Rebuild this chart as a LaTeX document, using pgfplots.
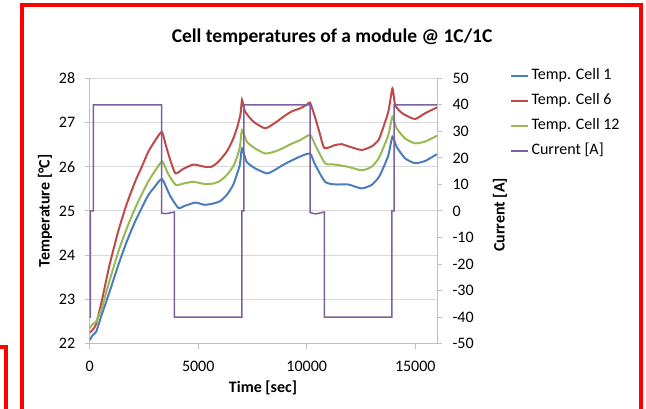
\documentclass[border=0pt]{standalone}
\usepackage{fontspec}
\setmainfont{Carlito}
\usepackage{pgfplots}
\usepackage{pgfplotstable}
\pgfplotsset{compat=1.18}

\definecolor{cblue}{HTML}{4A7EBB}
\definecolor{cred}{HTML}{BE4B48}
\definecolor{cgreen}{HTML}{98B954}
\definecolor{cpurple}{HTML}{7D60A0}
\definecolor{axgray}{HTML}{BFBFBF}
\definecolor{gridgray}{HTML}{D9D9D9}
\definecolor{framered}{HTML}{FF0000}

% time [s], temperature [C]
\pgfplotstableread{
t T
0 22.08
150 22.20
300 22.27
550 22.65
900 23.15
1320 23.78
1700 24.30
2090 24.76
2400 25.07
2700 25.36
3000 25.55
3330 25.72
3700 25.35
4083 25.07
4400 25.12
4870 25.19
5300 25.14
5700 25.17
6000 25.22
6310 25.36
6600 25.58
6770 25.81
6920 26.05
7018 26.41
7233 26.11
7600 25.97
8155 25.85
8500 25.92
8900 26.04
9300 26.14
9690 26.23
10152 26.30
10382 26.05
10843 25.66
11300 25.60
11900 25.60
12530 25.51
12990 25.59
13300 25.75
13450 25.89
13760 26.26
13946 26.68
14140 26.45
14530 26.19
14990 26.08
15450 26.13
15913 26.26
16000 26.28
}\cellone

\pgfplotstableread{
t T
0 22.25
150 22.32
300 22.45
550 22.95
900 23.75
1320 24.55
1700 25.15
2090 25.66
2400 26.00
2700 26.34
3000 26.58
3320 26.79
3500 26.50
3700 26.17
3950 25.85
4300 25.95
4780 26.05
5300 26.00
5600 26.00
5900 26.10
6310 26.34
6600 26.62
6800 26.90
6950 27.20
7018 27.51
7156 27.25
7540 27.02
8078 26.87
8500 26.98
8920 27.13
9300 27.25
9690 27.32
10000 27.40
10152 27.45
10382 27.12
10600 26.75
10812 26.42
11300 26.49
11610 26.51
12000 26.45
12530 26.38
12990 26.46
13300 26.60
13454 26.79
13760 27.25
13946 27.77
14069 27.40
14300 27.25
14530 27.17
14990 27.08
15450 27.21
15913 27.32
16000 27.35
}\cellsix

\pgfplotstableread{
t T
0 22.35
150 22.45
300 22.50
550 22.80
900 23.40
1320 24.08
1700 24.60
2090 25.06
2400 25.38
2700 25.67
3000 25.90
3340 26.12
3600 25.85
3960 25.59
4300 25.62
4780 25.66
5300 25.61
5700 25.62
6000 25.68
6310 25.81
6600 26.00
6770 26.19
6920 26.45
7018 26.83
7233 26.57
7600 26.42
8078 26.30
8500 26.34
8900 26.42
9300 26.52
9690 26.60
10152 26.72
10382 26.50
10843 26.08
11300 26.05
11900 26.00
12530 25.92
12990 26.00
13300 26.18
13450 26.34
13760 26.72
13946 27.13
14140 26.87
14530 26.64
14990 26.53
15450 26.57
15913 26.68
16000 26.70
}\celltwelve

% time [s], current [A]
\pgfplotstableread{
t I
0 -40
30 -40
30 0
170 0
170 40
3318 40
3318 -0.8
3500 -1.0
3900 -0.4
3900 -40
7005 -40
7005 0
7097 0
7097 40
10150 40
10150 -0.6
10400 -1.1
10813 -0.4
10813 -40
13920 -40
13920 0
14023 0
14023 40
16000 40
}\current

\pgfplotsset{
  base/.style={
    at={(89.7pt,65.3pt)}, anchor=south west,
    scale only axis, width=347.3pt, height=265.4pt,
    xmin=0, xmax=16000,
    axis line style={axgray, line width=1pt},
    tick style={axgray, line width=1pt},
    tick align=outside, major tick length=5pt,
    tick label style={font=\fontsize{16}{19}\selectfont},
    label style={font=\bfseries\fontsize{16}{19}\selectfont},
    scaled x ticks=false,
    /pgf/number format/assume math mode=true,
    /pgf/number format/1000 sep={},
  },
  temp/.style={line width=2pt, no marks, smooth, tension=0.35},
}

\begin{document}
\begin{tikzpicture}
\useasboundingbox (0pt,0pt) rectangle (646pt,409pt);

\begin{axis}[
  base,
  ymin=22, ymax=28,
  xtick={0,5000,10000,15000}, ytick={22,23,...,28},
  axis x line*=bottom, axis y line*=left,
  ymajorgrids, grid style={gridgray, line width=1pt},
  xticklabel style={yshift=-9pt},
  yticklabel style={xshift=-6pt},
  xlabel={Time [sec]}, ylabel={Temperature [°C]},
  xlabel style={at={(axis description cs:0.499,-0.167)}, anchor=center},
  ylabel style={at={(axis description cs:-0.1287,0.5)}, anchor=center},
  title={Cell temperatures of a module @ 1C/1C},
  title style={at={(axis description cs:0.698,1.133)}, anchor=center,
    font=\bfseries\fontsize{19.5}{23}\selectfont},
]
\addplot[cblue, temp] table[x=t, y=T] {\cellone};
\addplot[cred, temp] table[x=t, y=T] {\cellsix};
\addplot[cgreen, temp] table[x=t, y=T] {\celltwelve};
\end{axis}

\begin{axis}[
  base,
  ymin=-50, ymax=50,
  ytick={-50,-40,...,50},
  axis y line*=right, axis x line=none,
  yticklabel style={xshift=7pt},
  ylabel={Current [A]},
  ylabel style={at={(axis description cs:1.181,0.485)}, anchor=center},
  legend cell align=left,
  legend image code/.code={\draw[#1, line width=1.5pt] (0pt,0pt) -- (17pt,0pt);},
  legend style={at={(axis description cs:1.2102,1.0388)}, anchor=north west,
    draw=none, fill=none, inner sep=0pt, outer sep=0pt,
    font=\fontsize{16}{19}\selectfont, row sep=9pt, column sep=3pt,
    nodes={inner sep=0pt, text height=12pt, text depth=4pt}},
]
\addlegendimage{cblue}
\addlegendentry{Temp. Cell 1}
\addlegendimage{cred}
\addlegendentry{Temp. Cell 6}
\addlegendimage{cgreen}
\addlegendentry{Temp. Cell 12}
\addplot[cpurple, line width=1.5pt, no marks] table[x=t, y=I] {\current};
\addlegendentry{Current [A]}
\end{axis}

\draw[framered, line width=4pt] (22pt,-10pt) -- (22pt,404pt) -- (641.3pt,404pt) -- (641.3pt,-10pt);
\draw[framered, line width=4pt] (-5pt,62pt) -- (6pt,62pt) -- (6pt,-10pt);
\end{tikzpicture}
\end{document}
